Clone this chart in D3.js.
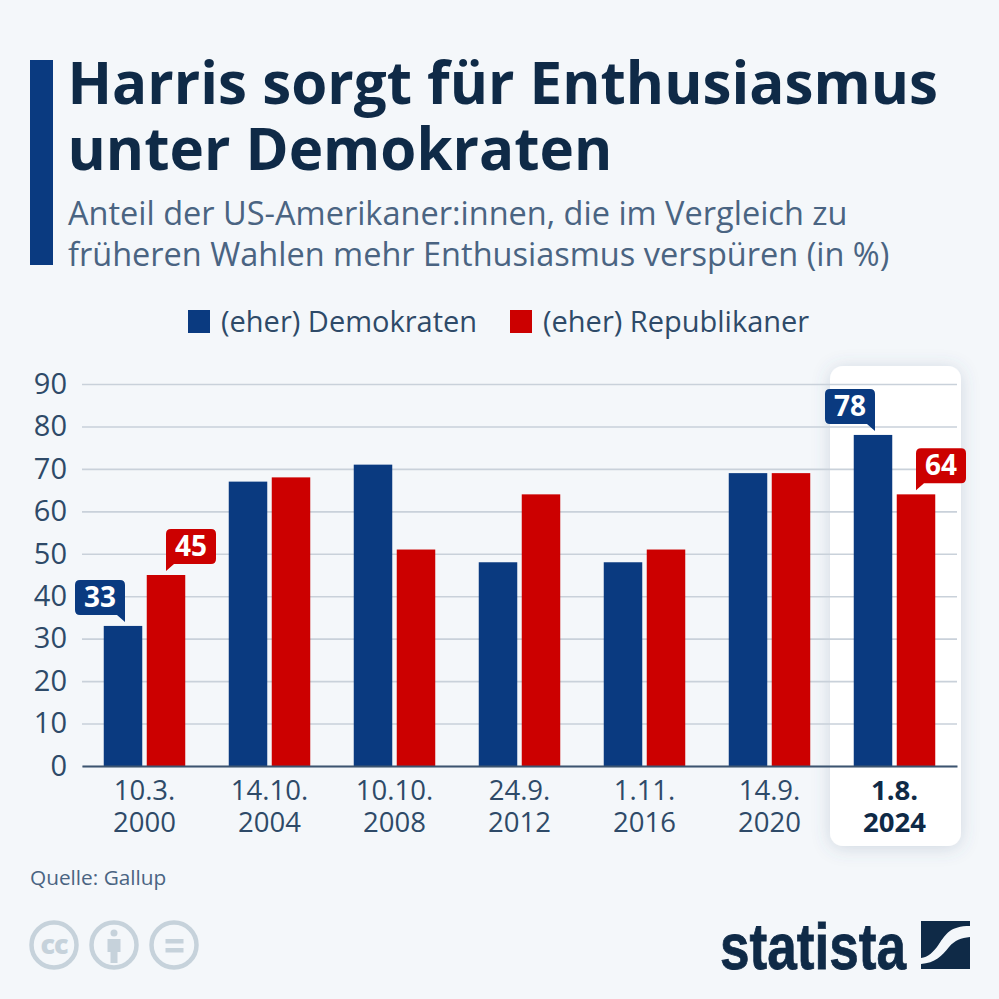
<!DOCTYPE html>
<html>
<head>
<meta charset="utf-8">
<script src="https://d3js.org/d3.v7.min.js"></script>
<style>
  html, body { margin: 0; padding: 0; background: #f4f7fa; }
  svg { display: block; }
  text { font-family: "Open Sans", sans-serif; }
</style>
</head>
<body>
<div id="chart"></div>
<script>
// data
var dates = ["10.3. 2000", "14.10. 2004", "10.10. 2008", "24.9. 2012", "1.11. 2016", "14.9. 2020", "1.8. 2024"];
var democrats = [33, 67, 71, 48, 48, 69, 78];
var republicans = [45, 68, 51, 64, 51, 69, 64];
var yTicks = [0, 10, 20, 30, 40, 50, 60, 70, 80, 90];
var seriesNames = ["(eher) Demokraten", "(eher) Republikaner"];
var titleLines = ["Harris sorgt für Enthusiasmus", "unter Demokraten"];
var subtitleLines = ["Anteil der US-Amerikaner:innen, die im Vergleich zu", "früheren Wahlen mehr Enthusiasmus verspüren (in %)"];

var BLUE = "#0a3a80", RED = "#cc0000", DARK = "#0f2a47", SLATE = "#4a6482", GRID = "#c9d1da";

var svG = d3.select("#chart").append("svg")
  .attr("width", 999)
  .attr("height", 999);

svG.append("rect").attr("width", 999).attr("height", 999).attr("fill", "#f4f7fa");

// shadow of the highlight card
var defs = svG.append("defs");
var shadow = defs.append("filter").attr("id", "cardShadow")
  .attr("x", "-30%").attr("y", "-10%").attr("width", "160%").attr("height", "120%");
shadow.append("feDropShadow")
  .attr("dx", 0).attr("dy", 2).attr("stdDeviation", 9)
  .attr("flood-color", "#4a6482").attr("flood-opacity", 0.22);

// header
svG.append("rect").attr("x", 30).attr("y", 60).attr("width", 23).attr("height", 205).attr("fill", BLUE);

svG.selectAll(".title").data(titleLines).enter().append("text")
  .attr("class", "title")
  .attr("x", 67.5)
  .attr("y", (d, i) => 103.5 + i * 66)
  .attr("font-size", 58.3)
  .attr("font-weight", 700)
  .attr("fill", DARK)
  .text(d => d);

svG.selectAll(".subtitle").data(subtitleLines).enter().append("text")
  .attr("class", "subtitle")
  .attr("x", 68)
  .attr("y", (d, i) => 224.5 + i * 41)
  .attr("font-size", 32.5)
  .attr("fill", SLATE)
  .text(d => d);

// legend
var legendX = [188, 510];
var legendColors = [BLUE, RED];
seriesNames.forEach(function(name, i) {
  svG.append("rect")
    .attr("x", legendX[i]).attr("y", 310)
    .attr("width", 22).attr("height", 23)
    .attr("fill", legendColors[i]);
  svG.append("text")
    .attr("x", legendX[i] + 33).attr("y", 332)
    .attr("font-size", 29)
    .attr("fill", "#2e4a68")
    .text(name);
});

// highlight card behind the last group
svG.append("rect")
  .attr("x", 830).attr("y", 366)
  .attr("width", 131).attr("height", 480)
  .attr("rx", 13)
  .attr("fill", "#fff")
  .attr("filter", "url(#cardShadow)");

// scales
var xScale = d3.scaleBand().domain(dates).range([82, 957]);
var yScale = d3.scaleLinear().domain([0, 90]).range([766, 384]);
var barW = 38.5, barGap = 4.5;

// grid + y axis
var y_axis = d3.axisLeft(yScale)
  .tickValues(yTicks)
  .tickSize(0)
  .tickPadding(15);

var yG = svG.append("g")
  .attr("transform", "translate(82,0)")
  .call(y_axis);
yG.select(".domain").remove();
yG.selectAll("text")
  .attr("font-size", 29)
  .attr("fill", "#2e4a68")
  .style("font-family", '"Open Sans", sans-serif');
yG.selectAll(".tick").append("line")
  .attr("x2", 875)
  .attr("stroke", GRID)
  .attr("stroke-width", 1.6);

// bars
var groups = svG.selectAll(".group").data(dates).enter().append("g")
  .attr("class", "group")
  .attr("transform", d => "translate(" + (xScale(d) + xScale.bandwidth() / 2) + ",0)");

groups.append("rect")
  .attr("x", -barW - barGap / 2)
  .attr("y", (d, i) => yScale(democrats[i]))
  .attr("width", barW)
  .attr("height", (d, i) => yScale(0) - yScale(democrats[i]))
  .attr("fill", BLUE);

groups.append("rect")
  .attr("x", barGap / 2)
  .attr("y", (d, i) => yScale(republicans[i]))
  .attr("width", barW)
  .attr("height", (d, i) => yScale(0) - yScale(republicans[i]))
  .attr("fill", RED);

// x axis, two line labels
var x_axis = d3.axisBottom(xScale).tickSize(0).tickPadding(0).tickFormat("");
var xG = svG.append("g")
  .attr("transform", "translate(0,766)")
  .call(x_axis);
xG.select(".domain")
  .attr("stroke", "#3c5470")
  .attr("stroke-width", 1.8);
xG.selectAll(".tick text").remove();
xG.selectAll(".tick").each(function(d, i) {
  var parts = d.split(" ");
  var last = i === dates.length - 1;
  d3.select(this).selectAll(".lbl").data(parts).enter().append("text")
    .attr("class", "lbl")
    .attr("text-anchor", "middle")
    .attr("y", (p, j) => 34 + j * 31.5)
    .attr("font-size", 27.5)
    .attr("font-weight", last ? 700 : 400)
    .attr("fill", last ? DARK : "#2e4a68")
    .text(p => p);
});

// callouts on the first and the last group: [group index, value, colour, side]
function callout(i, value, color, side) {
  var barC = xScale(dates[i]) + xScale.bandwidth() / 2 + side * (barW + barGap) / 2;
  var top = yScale(value);
  var w = 50, h = 35, r = 5;
  var anchorX = side < 0 ? barC + 2 : barC;
  var left = side < 0 ? anchorX - w : anchorX;
  var bottom = top - 11;
  var up = bottom - h;
  var p = d3.path();
  p.moveTo(left + r, up);
  p.lineTo(left + w - r, up);
  p.quadraticCurveTo(left + w, up, left + w, up + r);
  if (side < 0) {
    p.lineTo(left + w, bottom + 7);
    p.lineTo(left + w - 8, bottom);
  } else {
    p.lineTo(left + w, bottom - r);
    p.quadraticCurveTo(left + w, bottom, left + w - r, bottom);
  }
  if (side > 0) {
    p.lineTo(left + 8, bottom);
    p.lineTo(left, bottom + 7);
  } else {
    p.lineTo(left + r, bottom);
    p.quadraticCurveTo(left, bottom, left, bottom - r);
  }
  p.lineTo(left, up + r);
  p.quadraticCurveTo(left, up, left + r, up);
  p.closePath();
  svG.append("path").attr("d", p.toString()).attr("fill", color);
  svG.append("text")
    .attr("x", left + w / 2)
    .attr("y", up + 27)
    .attr("text-anchor", "middle")
    .attr("font-size", 28)
    .attr("font-weight", 700)
    .attr("fill", "#fff")
    .text(value);
}
callout(0, democrats[0], BLUE, -1);
callout(0, republicans[0], RED, 1);
callout(6, democrats[6], BLUE, -1);
callout(6, republicans[6], RED, 1);

// source
svG.append("text")
  .attr("x", 30).attr("y", 884.5)
  .attr("font-size", 20.8)
  .attr("fill", SLATE)
  .text("Quelle: Gallup");

// licence icons
var ICON = "#c6d2db";
var iconG = svG.append("g");
[54, 114, 174].forEach(function(cx) {
  iconG.append("circle")
    .attr("cx", cx).attr("cy", 945).attr("r", 22.5)
    .attr("fill", "none").attr("stroke", ICON).attr("stroke-width", 4.5);
});
iconG.append("text")
  .attr("x", 54).attr("y", 954)
  .attr("text-anchor", "middle")
  .attr("font-size", 27).attr("font-weight", 800)
  .attr("letter-spacing", -1)
  .attr("fill", ICON)
  .text("cc");
iconG.append("circle").attr("cx", 114).attr("cy", 933).attr("r", 3.5).attr("fill", ICON);
iconG.append("path")
  .attr("d", "M107.5 939h13v13h-3v11h-7v-11h-3z")
  .attr("fill", ICON);
iconG.append("rect").attr("x", 165.5).attr("y", 939).attr("width", 18).attr("height", 4.5).attr("fill", ICON);
iconG.append("rect").attr("x", 165.5).attr("y", 948).attr("width", 18).attr("height", 4.5).attr("fill", ICON);

// statista logo
svG.append("text")
  .attr("x", 720).attr("y", 969)
  .attr("textLength", 186)
  .attr("lengthAdjust", "spacingAndGlyphs")
  .attr("font-size", 65)
  .attr("font-weight", 700)
  .attr("stroke", DARK)
  .attr("stroke-width", 0.8)
  .style("font-family", '"Liberation Sans Narrow", "Liberation Sans", sans-serif')
  .attr("fill", DARK)
  .text("statista");
svG.append("path")
  .attr("d", "M921 921H970V926C950 926 946 934 939 944C933 953 928 957 921 958Z")
  .attr("fill", DARK);
svG.append("path")
  .attr("d", "M970 937V969H921V964C935 963 942 956 949 947C955 940 961 938 970 937Z")
  .attr("fill", DARK);
</script>
</body>
</html>
